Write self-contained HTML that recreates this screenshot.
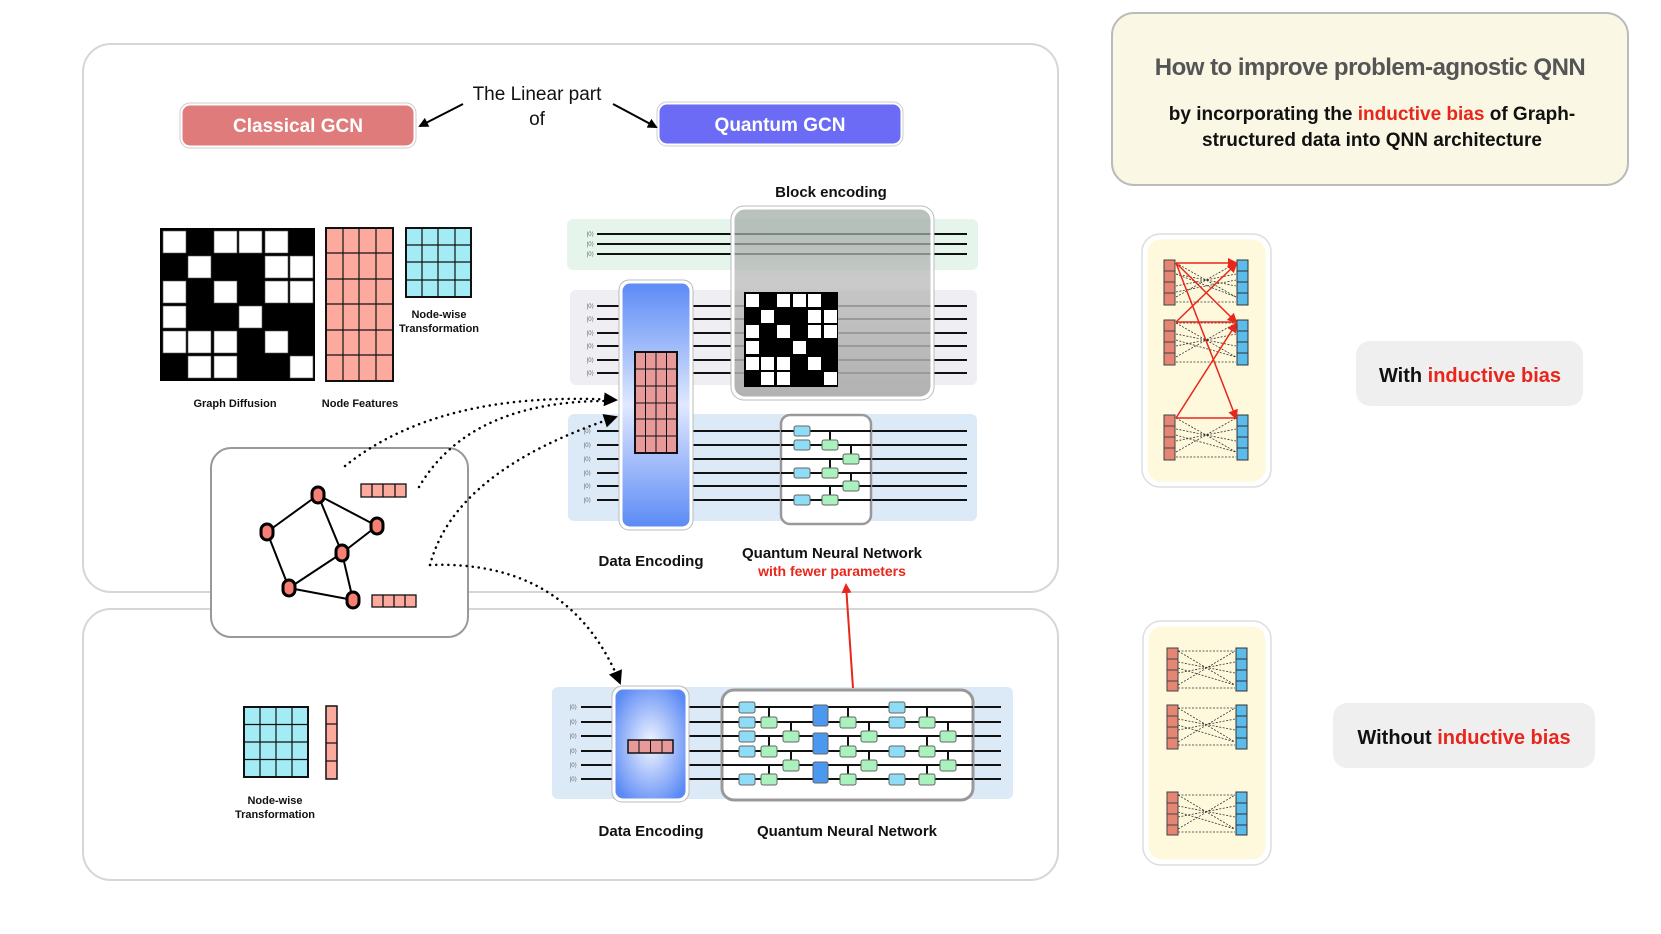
<!DOCTYPE html>
<html><head><meta charset="utf-8"><style>
html,body{margin:0;padding:0;background:#fff;width:1661px;height:934px;overflow:hidden}
svg{display:block}
text{font-family:"Liberation Sans",sans-serif}
</style></head><body>
<svg width="1661" height="934" viewBox="0 0 1661 934" xmlns="http://www.w3.org/2000/svg">
<defs>
<marker id="ab" markerWidth="10" markerHeight="10" refX="8" refY="5" orient="auto" markerUnits="userSpaceOnUse"><path d="M0,0 L10,5 L0,10 z" fill="#000"/></marker>
<marker id="ab2" markerWidth="14" markerHeight="14" refX="12" refY="7" orient="auto" markerUnits="userSpaceOnUse"><path d="M0,0 L14,7 L0,14 z" fill="#000"/></marker>
<marker id="ar" markerWidth="10" markerHeight="10" refX="8" refY="5" orient="auto" markerUnits="userSpaceOnUse"><path d="M0,0 L10,5 L0,10 z" fill="#e8261b"/></marker>
<linearGradient id="deg" x1="0" y1="0" x2="0" y2="1"><stop offset="0" stop-color="#5b8af5"/><stop offset="0.5" stop-color="#dfe8ff"/><stop offset="1" stop-color="#5b8af5"/></linearGradient>
<radialGradient id="deg2" cx="0.5" cy="0.5" r="0.6"><stop offset="0" stop-color="#f4f6ff"/><stop offset="1" stop-color="#5b8af5"/></radialGradient>
<linearGradient id="beg" x1="0" y1="0" x2="0" y2="1"><stop offset="0" stop-color="#9aa6a0" stop-opacity="0.7"/><stop offset="0.4" stop-color="#bdbdbd" stop-opacity="0.8"/><stop offset="1" stop-color="#a9a9a9" stop-opacity="0.9"/></linearGradient>
</defs>

<rect x="83" y="44" width="975" height="548" rx="28" fill="#fff" stroke="#d6d6d6" stroke-width="2"/>
<rect x="83" y="609" width="975" height="271" rx="28" fill="#fff" stroke="#d6d6d6" stroke-width="2"/>

<rect x="181" y="104" width="234" height="43" rx="9" fill="#e07b7b" stroke="#fff" stroke-width="3"/>
<rect x="180" y="103" width="236" height="45" rx="10" fill="none" stroke="#ccc" stroke-width="1"/>
<text x="298" y="132" font-size="19" font-weight="bold" fill="#fff" text-anchor="middle">Classical GCN</text>
<rect x="658" y="103" width="244" height="42" rx="9" fill="#6b6bf5" stroke="#fff" stroke-width="3"/>
<rect x="657" y="102" width="246" height="44" rx="10" fill="none" stroke="#ccc" stroke-width="1"/>
<text x="780" y="131" font-size="19" font-weight="bold" fill="#fff" text-anchor="middle">Quantum GCN</text>
<text x="537" y="100" font-size="19" fill="#111" text-anchor="middle">The Linear part</text>
<text x="537" y="125" font-size="19" fill="#111" text-anchor="middle">of</text>
<line x1="463" y1="104" x2="420" y2="126" stroke="#000" stroke-width="2" marker-end="url(#ab)"/>
<line x1="613" y1="104" x2="656" y2="127" stroke="#000" stroke-width="2" marker-end="url(#ab)"/>

<g>
<rect x="160" y="228" width="155" height="153" fill="#000"/>
<g fill="#fff" stroke="#555" stroke-width="0.6">
<rect x="163" y="231" width="23" height="22"/><rect x="214" y="231" width="23" height="22"/><rect x="239" y="231" width="23" height="22"/><rect x="265" y="231" width="23" height="22"/>
<rect x="188" y="256" width="23" height="22"/><rect x="265" y="256" width="23" height="22"/><rect x="290" y="256" width="23" height="22"/>
<rect x="163" y="281" width="23" height="22"/><rect x="214" y="281" width="23" height="22"/><rect x="265" y="281" width="23" height="22"/><rect x="290" y="281" width="23" height="22"/>
<rect x="163" y="306" width="23" height="22"/><rect x="239" y="306" width="23" height="22"/>
<rect x="163" y="331" width="23" height="22"/><rect x="188" y="331" width="23" height="22"/><rect x="214" y="331" width="23" height="22"/><rect x="265" y="331" width="23" height="22"/>
<rect x="188" y="356" width="23" height="22"/><rect x="214" y="356" width="23" height="22"/><rect x="290" y="356" width="23" height="22"/>
</g></g>
<text x="235" y="407" font-size="11" font-weight="bold" fill="#111" text-anchor="middle">Graph Diffusion</text>

<rect x="326" y="228" width="67" height="153" fill="#fcaa9e" stroke="#111" stroke-width="2"/>
<g stroke="#111" stroke-width="1.2">
<line x1="343" y1="228" x2="343" y2="381"/><line x1="359" y1="228" x2="359" y2="381"/><line x1="376" y1="228" x2="376" y2="381"/>
<line x1="326" y1="253" x2="393" y2="253"/><line x1="326" y1="279" x2="393" y2="279"/><line x1="326" y1="304" x2="393" y2="304"/><line x1="326" y1="330" x2="393" y2="330"/><line x1="326" y1="355" x2="393" y2="355"/>
</g>
<text x="360" y="407" font-size="11" font-weight="bold" fill="#111" text-anchor="middle">Node Features</text>

<rect x="406" y="228" width="65" height="69" fill="#a3ebf5" stroke="#111" stroke-width="2"/>
<g stroke="#111" stroke-width="1.2">
<line x1="422" y1="228" x2="422" y2="297"/><line x1="438" y1="228" x2="438" y2="297"/><line x1="455" y1="228" x2="455" y2="297"/>
<line x1="406" y1="245" x2="471" y2="245"/><line x1="406" y1="262" x2="471" y2="262"/><line x1="406" y1="280" x2="471" y2="280"/>
</g>
<text x="439" y="318" font-size="11" font-weight="bold" fill="#111" text-anchor="middle">Node-wise</text>
<text x="439" y="332" font-size="11" font-weight="bold" fill="#111" text-anchor="middle">Transformation</text>

<rect x="567" y="219" width="411" height="51" rx="6" fill="#e6f5ec"/>
<rect x="570" y="290" width="407" height="95" rx="6" fill="#eeeef3"/>
<rect x="568" y="414" width="409" height="107" rx="6" fill="#dce9f6"/>
<g stroke="#111" stroke-width="2">
<line x1="597" y1="234" x2="967" y2="234"/><line x1="597" y1="244" x2="967" y2="244"/><line x1="597" y1="254" x2="967" y2="254"/>
<line x1="597" y1="306" x2="967" y2="306"/><line x1="597" y1="319" x2="967" y2="319"/><line x1="597" y1="333" x2="967" y2="333"/><line x1="597" y1="346" x2="967" y2="346"/><line x1="597" y1="360" x2="967" y2="360"/><line x1="597" y1="373" x2="967" y2="373"/>
<line x1="597" y1="431" x2="967" y2="431"/><line x1="597" y1="445" x2="967" y2="445"/><line x1="597" y1="459" x2="967" y2="459"/><line x1="597" y1="473" x2="967" y2="473"/><line x1="597" y1="486" x2="967" y2="486"/><line x1="597" y1="500" x2="967" y2="500"/>
</g>
<g font-size="6" fill="#666" text-anchor="end" font-family="Liberation Serif">
<text x="594" y="236">|0⟩</text><text x="594" y="246">|0⟩</text><text x="594" y="256">|0⟩</text>
<text x="594" y="308">|0⟩</text><text x="594" y="321">|0⟩</text><text x="594" y="335">|0⟩</text><text x="594" y="348">|0⟩</text><text x="594" y="362">|0⟩</text><text x="594" y="375">|0⟩</text>
<text x="591" y="433">|0⟩</text><text x="591" y="447">|0⟩</text><text x="591" y="461">|0⟩</text><text x="591" y="475">|0⟩</text><text x="591" y="488">|0⟩</text><text x="591" y="502">|0⟩</text>
</g>
<text x="831" y="197" font-size="15" font-weight="bold" fill="#111" text-anchor="middle">Block encoding</text>
<rect x="733" y="208" width="199" height="190" rx="12" fill="url(#beg)" stroke="#fff" stroke-width="3"/>
<rect x="731" y="206" width="203" height="194" rx="13" fill="none" stroke="#bbb" stroke-width="1"/>
<rect x="744" y="292" width="94" height="95" fill="#000"/>
<g fill="#fff">
<rect x="746" y="294" width="13" height="13"/><rect x="777" y="294" width="13" height="13"/><rect x="793" y="294" width="13" height="13"/><rect x="808" y="294" width="13" height="13"/>
<rect x="761" y="310" width="13" height="13"/><rect x="808" y="310" width="13" height="13"/><rect x="824" y="310" width="13" height="13"/>
<rect x="746" y="325" width="13" height="13"/><rect x="777" y="325" width="13" height="13"/><rect x="808" y="325" width="13" height="13"/><rect x="824" y="325" width="13" height="13"/>
<rect x="746" y="341" width="13" height="13"/><rect x="793" y="341" width="13" height="13"/>
<rect x="746" y="357" width="13" height="13"/><rect x="761" y="357" width="13" height="13"/><rect x="777" y="357" width="13" height="13"/><rect x="808" y="357" width="13" height="13"/>
<rect x="761" y="372" width="13" height="13"/><rect x="777" y="372" width="13" height="13"/><rect x="824" y="372" width="13" height="13"/>
</g>
<rect x="621" y="282" width="70" height="246" rx="9" fill="url(#deg)" stroke="#fff" stroke-width="3"/>
<rect x="619" y="280" width="74" height="250" rx="10" fill="none" stroke="#bbb" stroke-width="1"/>
<rect x="635" y="352" width="42" height="101" fill="#e89a9a" stroke="#111" stroke-width="2"/>
<g stroke="#111" stroke-width="1">
<line x1="645.5" y1="352" x2="645.5" y2="453"/><line x1="656" y1="352" x2="656" y2="453"/><line x1="666.5" y1="352" x2="666.5" y2="453"/>
<line x1="635" y1="369" x2="677" y2="369"/><line x1="635" y1="386" x2="677" y2="386"/><line x1="635" y1="403" x2="677" y2="403"/><line x1="635" y1="419" x2="677" y2="419"/><line x1="635" y1="436" x2="677" y2="436"/>
</g>
<rect x="781" y="415" width="90" height="109" rx="9" fill="#fff" stroke="#999" stroke-width="2.5"/>
<g stroke="#111" stroke-width="2">
<line x1="781" y1="431" x2="871" y2="431"/><line x1="781" y1="445" x2="871" y2="445"/><line x1="781" y1="459" x2="871" y2="459"/><line x1="781" y1="473" x2="871" y2="473"/><line x1="781" y1="486" x2="871" y2="486"/><line x1="781" y1="500" x2="871" y2="500"/>
<line x1="830" y1="431" x2="830" y2="445"/><line x1="851" y1="445" x2="851" y2="459"/><line x1="830" y1="459" x2="830" y2="473"/><line x1="851" y1="473" x2="851" y2="486"/><line x1="830" y1="486" x2="830" y2="500"/>
</g>
<g stroke="#666" stroke-width="1">
<rect x="794" y="426" width="16" height="10" rx="2" fill="#8fdcf7"/><rect x="794" y="440" width="16" height="10" rx="2" fill="#8fdcf7"/><rect x="794" y="468" width="16" height="10" rx="2" fill="#8fdcf7"/><rect x="794" y="495" width="16" height="10" rx="2" fill="#8fdcf7"/>
<rect x="822" y="440" width="16" height="10" rx="2" fill="#a9f2be"/><rect x="822" y="468" width="16" height="10" rx="2" fill="#a9f2be"/><rect x="822" y="495" width="16" height="10" rx="2" fill="#a9f2be"/>
<rect x="843" y="454" width="16" height="10" rx="2" fill="#a9f2be"/><rect x="843" y="481" width="16" height="10" rx="2" fill="#a9f2be"/>
</g>
<text x="651" y="566" font-size="15" font-weight="bold" fill="#111" text-anchor="middle">Data Encoding</text>
<text x="832" y="558" font-size="15" font-weight="bold" fill="#111" text-anchor="middle">Quantum Neural Network</text>
<text x="832" y="576" font-size="14" font-weight="bold" fill="#e8261b" text-anchor="middle">with fewer parameters</text>

<rect x="211" y="448" width="257" height="189" rx="20" fill="#fff" stroke="#999" stroke-width="2"/>
<g stroke="#000" stroke-width="2">
<line x1="318" y1="495" x2="267" y2="532"/><line x1="318" y1="495" x2="377" y2="526"/><line x1="318" y1="495" x2="342" y2="553"/>
<line x1="267" y1="532" x2="289" y2="588"/><line x1="342" y1="553" x2="377" y2="526"/><line x1="342" y1="553" x2="289" y2="588"/><line x1="342" y1="553" x2="353" y2="600"/><line x1="289" y1="588" x2="353" y2="600"/>
</g>
<g fill="#f77f74" stroke="#000" stroke-width="3">
<rect x="312" y="487" width="12" height="16" rx="6"/><rect x="261" y="524" width="12" height="16" rx="6"/><rect x="371" y="518" width="12" height="16" rx="6"/><rect x="336" y="545" width="12" height="16" rx="6"/><rect x="283" y="580" width="12" height="16" rx="6"/><rect x="347" y="592" width="12" height="16" rx="6"/>
</g>
<g stroke="#111" stroke-width="1.3" fill="#fcaa9e">
<rect x="361" y="484" width="45" height="13"/><line x1="372" y1="484" x2="372" y2="497"/><line x1="383" y1="484" x2="383" y2="497"/><line x1="395" y1="484" x2="395" y2="497"/>
<rect x="372" y="595" width="44" height="12"/><line x1="383" y1="595" x2="383" y2="607"/><line x1="394" y1="595" x2="394" y2="607"/><line x1="405" y1="595" x2="405" y2="607"/>
</g>

<g fill="none" stroke="#000" stroke-width="2.5" stroke-dasharray="0.1 6" stroke-linecap="round">
<path d="M345,466 Q440,390 616,400" marker-end="url(#ab2)"/>
<path d="M419,487 Q470,400 610,401"/>
<path d="M430,565 Q455,470 616,417" marker-end="url(#ab2)"/>
<path d="M430,565 Q570,560 620,683" marker-end="url(#ab2)"/>
</g>

<rect x="244" y="707" width="64" height="70" fill="#a3ebf5" stroke="#111" stroke-width="2"/>
<g stroke="#111" stroke-width="1.2">
<line x1="260" y1="707" x2="260" y2="777"/><line x1="276" y1="707" x2="276" y2="777"/><line x1="292" y1="707" x2="292" y2="777"/>
<line x1="244" y1="724.5" x2="308" y2="724.5"/><line x1="244" y1="742" x2="308" y2="742"/><line x1="244" y1="759.5" x2="308" y2="759.5"/>
</g>
<rect x="326" y="706" width="11" height="73" fill="#fcaa9e" stroke="#111" stroke-width="1.5"/>
<g stroke="#111" stroke-width="1.2"><line x1="326" y1="724" x2="337" y2="724"/><line x1="326" y1="743" x2="337" y2="743"/><line x1="326" y1="761" x2="337" y2="761"/></g>
<text x="275" y="804" font-size="11" font-weight="bold" fill="#111" text-anchor="middle">Node-wise</text>
<text x="275" y="818" font-size="11" font-weight="bold" fill="#111" text-anchor="middle">Transformation</text>

<rect x="552" y="687" width="461" height="112" rx="6" fill="#dce9f6"/>
<g stroke="#111" stroke-width="2">
<line x1="581" y1="707" x2="1001" y2="707"/><line x1="581" y1="722" x2="1001" y2="722"/><line x1="581" y1="736" x2="1001" y2="736"/><line x1="581" y1="751" x2="1001" y2="751"/><line x1="581" y1="765" x2="1001" y2="765"/><line x1="581" y1="779" x2="1001" y2="779"/>
</g>
<g font-size="6" fill="#666" text-anchor="end" font-family="Liberation Serif">
<text x="577" y="709">|0⟩</text><text x="577" y="724">|0⟩</text><text x="577" y="738">|0⟩</text><text x="577" y="753">|0⟩</text><text x="577" y="767">|0⟩</text><text x="577" y="781">|0⟩</text>
</g>
<rect x="614" y="688" width="73" height="112" rx="9" fill="url(#deg2)" stroke="#fff" stroke-width="3"/>
<rect x="612" y="686" width="77" height="116" rx="10" fill="none" stroke="#bbb" stroke-width="1"/>
<rect x="628" y="740" width="45" height="13" fill="#e89a9a" stroke="#111" stroke-width="1.5"/>
<g stroke="#111" stroke-width="1"><line x1="639" y1="740" x2="639" y2="753"/><line x1="650.5" y1="740" x2="650.5" y2="753"/><line x1="662" y1="740" x2="662" y2="753"/></g>

<rect x="722" y="690" width="251" height="110" rx="12" fill="#fff" stroke="#999" stroke-width="3"/>
<g stroke="#111" stroke-width="2">
<line x1="722" y1="707" x2="973" y2="707"/><line x1="722" y1="722" x2="973" y2="722"/><line x1="722" y1="736" x2="973" y2="736"/><line x1="722" y1="751" x2="973" y2="751"/><line x1="722" y1="765" x2="973" y2="765"/><line x1="722" y1="779" x2="973" y2="779"/>
<line x1="769" y1="707" x2="769" y2="722"/><line x1="769" y1="736" x2="769" y2="751"/><line x1="769" y1="765" x2="769" y2="779"/>
<line x1="791" y1="722" x2="791" y2="736"/><line x1="791" y1="751" x2="791" y2="765"/>
<line x1="848" y1="707" x2="848" y2="722"/><line x1="848" y1="736" x2="848" y2="751"/><line x1="848" y1="765" x2="848" y2="779"/>
<line x1="869" y1="722" x2="869" y2="736"/><line x1="869" y1="751" x2="869" y2="765"/>
<line x1="927" y1="707" x2="927" y2="722"/><line x1="927" y1="736" x2="927" y2="751"/><line x1="927" y1="765" x2="927" y2="779"/>
<line x1="948" y1="722" x2="948" y2="736"/><line x1="948" y1="751" x2="948" y2="765"/>
</g>
<g stroke="#666" stroke-width="1">
<rect x="739" y="702" width="16" height="11" rx="2" fill="#8fdcf7"/><rect x="739" y="717" width="16" height="11" rx="2" fill="#8fdcf7"/><rect x="739" y="731" width="16" height="11" rx="2" fill="#8fdcf7"/><rect x="739" y="746" width="16" height="11" rx="2" fill="#8fdcf7"/><rect x="739" y="774" width="16" height="11" rx="2" fill="#8fdcf7"/>
<rect x="761" y="717" width="16" height="11" rx="2" fill="#a9f2be"/><rect x="761" y="746" width="16" height="11" rx="2" fill="#a9f2be"/><rect x="761" y="774" width="16" height="11" rx="2" fill="#a9f2be"/>
<rect x="783" y="731" width="16" height="11" rx="2" fill="#a9f2be"/><rect x="783" y="760" width="16" height="11" rx="2" fill="#a9f2be"/>
<rect x="813" y="705" width="15" height="21" rx="2" fill="#4a98ef"/><rect x="813" y="733" width="15" height="21" rx="2" fill="#4a98ef"/><rect x="813" y="762" width="15" height="21" rx="2" fill="#4a98ef"/>
<rect x="840" y="717" width="16" height="11" rx="2" fill="#a9f2be"/><rect x="840" y="746" width="16" height="11" rx="2" fill="#a9f2be"/><rect x="840" y="774" width="16" height="11" rx="2" fill="#a9f2be"/>
<rect x="861" y="731" width="16" height="11" rx="2" fill="#a9f2be"/><rect x="861" y="760" width="16" height="11" rx="2" fill="#a9f2be"/>
<rect x="889" y="702" width="16" height="11" rx="2" fill="#8fdcf7"/><rect x="889" y="717" width="16" height="11" rx="2" fill="#8fdcf7"/><rect x="889" y="746" width="16" height="11" rx="2" fill="#8fdcf7"/><rect x="889" y="774" width="16" height="11" rx="2" fill="#8fdcf7"/>
<rect x="919" y="717" width="16" height="11" rx="2" fill="#a9f2be"/><rect x="919" y="746" width="16" height="11" rx="2" fill="#a9f2be"/><rect x="919" y="774" width="16" height="11" rx="2" fill="#a9f2be"/>
<rect x="940" y="731" width="16" height="11" rx="2" fill="#a9f2be"/><rect x="940" y="760" width="16" height="11" rx="2" fill="#a9f2be"/>
</g>
<line x1="853" y1="688" x2="846" y2="585" stroke="#e8261b" stroke-width="2" marker-end="url(#ar)"/>
<text x="651" y="836" font-size="15" font-weight="bold" fill="#111" text-anchor="middle">Data Encoding</text>
<text x="847" y="836" font-size="15" font-weight="bold" fill="#111" text-anchor="middle">Quantum Neural Network</text>

<rect x="1112" y="13" width="516" height="172" rx="22" fill="#faf7e4" stroke="#bbb" stroke-width="2"/>
<text x="1370" y="75" font-size="24" font-weight="bold" fill="#555" text-anchor="middle" letter-spacing="-0.5">How to improve problem-agnostic QNN</text>
<text x="1372" y="120" font-size="19" font-weight="bold" fill="#111" text-anchor="middle">by incorporating the <tspan fill="#e8261b">inductive bias</tspan> of Graph-</text>
<text x="1372" y="146" font-size="19" font-weight="bold" fill="#111" text-anchor="middle">structured data into QNN architecture</text>

<rect x="1145" y="237" width="123" height="247" rx="16" fill="#fef8dc" stroke="#fff" stroke-width="5"/>
<rect x="1142" y="234" width="129" height="253" rx="18" fill="none" stroke="#ddd" stroke-width="1.5"/>
<g stroke="#333" stroke-width="0.8" stroke-dasharray="2 1.5" fill="none">
<line x1="1176" y1="263" x2="1236" y2="263"/><line x1="1176" y1="274" x2="1236" y2="286"/><line x1="1176" y1="286" x2="1236" y2="274"/><line x1="1176" y1="297" x2="1236" y2="263"/><line x1="1176" y1="263" x2="1236" y2="297"/><line x1="1176" y1="302" x2="1236" y2="302"/><line x1="1176" y1="274" x2="1236" y2="297"/><line x1="1176" y1="292" x2="1236" y2="280"/>
</g>
<g fill="#e48673" stroke="#444" stroke-width="1">
<rect x="1164" y="260" width="11" height="11"/><rect x="1164" y="271" width="11" height="11"/><rect x="1164" y="282" width="11" height="11"/><rect x="1164" y="293" width="11" height="12"/>
<rect x="1164" y="320" width="11" height="11"/><rect x="1164" y="331" width="11" height="11"/><rect x="1164" y="342" width="11" height="11"/><rect x="1164" y="353" width="11" height="12"/>
<rect x="1164" y="415" width="11" height="11"/><rect x="1164" y="426" width="11" height="11"/><rect x="1164" y="437" width="11" height="11"/><rect x="1164" y="448" width="11" height="12"/>
</g>
<g fill="#5bbbea" stroke="#333" stroke-width="1">
<rect x="1237" y="260" width="11" height="11"/><rect x="1237" y="271" width="11" height="11"/><rect x="1237" y="282" width="11" height="11"/><rect x="1237" y="293" width="11" height="12"/>
<rect x="1237" y="320" width="11" height="11"/><rect x="1237" y="331" width="11" height="11"/><rect x="1237" y="342" width="11" height="11"/><rect x="1237" y="353" width="11" height="12"/>
<rect x="1237" y="415" width="11" height="11"/><rect x="1237" y="426" width="11" height="11"/><rect x="1237" y="437" width="11" height="11"/><rect x="1237" y="448" width="11" height="12"/>
</g>
<g stroke="#333" stroke-width="0.8" stroke-dasharray="2 1.5" fill="none">
<path d="M1176,323 L1236,323 M1176,334 L1236,346 M1176,346 L1236,334 M1176,357 L1236,323 M1176,323 L1236,357 M1176,362 L1236,362 M1176,340 L1236,357"/>
<path d="M1176,418 L1236,418 M1176,429 L1236,441 M1176,441 L1236,429 M1176,452 L1236,418 M1176,418 L1236,452 M1176,457 L1236,457 M1176,435 L1236,452"/>
</g>
<g stroke="#e8261b" stroke-width="1.5" fill="none">
<line x1="1176" y1="263" x2="1236" y2="263" marker-end="url(#ar)"/>
<line x1="1176" y1="263" x2="1236" y2="322" marker-end="url(#ar)"/>
<line x1="1176" y1="263" x2="1236" y2="418" marker-end="url(#ar)"/>
<line x1="1176" y1="322" x2="1236" y2="264" marker-end="url(#ar)"/>
<line x1="1176" y1="322" x2="1236" y2="322"/>
<line x1="1176" y1="418" x2="1236" y2="324" marker-end="url(#ar)"/>
<line x1="1176" y1="418" x2="1236" y2="418"/>
</g>
<rect x="1356" y="341" width="227" height="65" rx="14" fill="#efefef"/>
<text x="1470" y="382" font-size="20" font-weight="bold" fill="#111" text-anchor="middle">With <tspan fill="#e8261b">inductive bias</tspan></text>

<rect x="1146" y="624" width="122" height="238" rx="16" fill="#fef8dc" stroke="#fff" stroke-width="5"/>
<rect x="1143" y="621" width="128" height="244" rx="18" fill="none" stroke="#ddd" stroke-width="1.5"/>
<g fill="#e48673" stroke="#444" stroke-width="1">
<rect x="1167" y="648" width="11" height="11"/><rect x="1167" y="659" width="11" height="11"/><rect x="1167" y="670" width="11" height="11"/><rect x="1167" y="681" width="11" height="10"/>
<rect x="1167" y="705" width="11" height="11"/><rect x="1167" y="716" width="11" height="11"/><rect x="1167" y="727" width="11" height="11"/><rect x="1167" y="738" width="11" height="11"/>
<rect x="1167" y="792" width="11" height="11"/><rect x="1167" y="803" width="11" height="11"/><rect x="1167" y="814" width="11" height="11"/><rect x="1167" y="825" width="11" height="10"/>
</g>
<g fill="#5bbbea" stroke="#333" stroke-width="1">
<rect x="1236" y="648" width="11" height="11"/><rect x="1236" y="659" width="11" height="11"/><rect x="1236" y="670" width="11" height="11"/><rect x="1236" y="681" width="11" height="10"/>
<rect x="1236" y="705" width="11" height="11"/><rect x="1236" y="716" width="11" height="11"/><rect x="1236" y="727" width="11" height="11"/><rect x="1236" y="738" width="11" height="11"/>
<rect x="1236" y="792" width="11" height="11"/><rect x="1236" y="803" width="11" height="11"/><rect x="1236" y="814" width="11" height="11"/><rect x="1236" y="825" width="11" height="10"/>
</g>
<g stroke="#333" stroke-width="0.8" stroke-dasharray="2 1.5" fill="none">
<path d="M1178,651 L1235,651 M1178,662 L1235,673 M1178,673 L1235,662 M1178,685 L1235,651 M1178,651 L1235,685 M1178,688 L1235,688 M1178,668 L1235,685"/>
<path d="M1178,708 L1235,708 M1178,719 L1235,730 M1178,730 L1235,719 M1178,742 L1235,708 M1178,708 L1235,742 M1178,745 L1235,745 M1178,725 L1235,742"/>
<path d="M1178,795 L1235,795 M1178,806 L1235,817 M1178,817 L1235,806 M1178,829 L1235,795 M1178,795 L1235,829 M1178,832 L1235,832 M1178,812 L1235,829"/>
</g>
<rect x="1333" y="703" width="262" height="65" rx="14" fill="#efefef"/>
<text x="1464" y="744" font-size="20" font-weight="bold" fill="#111" text-anchor="middle">Without  <tspan fill="#e8261b">inductive bias</tspan></text>
</svg>
</body></html>
